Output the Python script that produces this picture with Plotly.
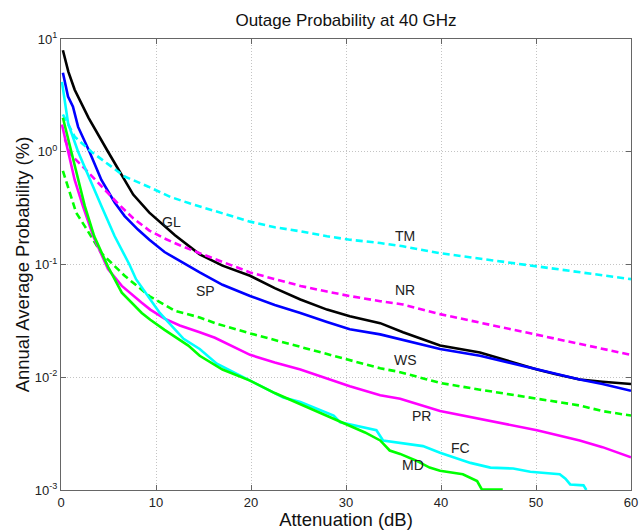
import math
import plotly.graph_objects as go

# ---- data (Attenuation dB, Annual average probability %) ----
gl_x = [0.2, 0.77, 1.44, 2.9, 4.95, 6.0, 7.6, 9.3, 10.5, 12, 14.6, 17, 19.9, 22.5, 25.2, 28, 30.4, 33.6, 36, 39.9, 44.1, 47, 50.1, 52, 54.6, 57, 60]
gl_y = [7.94, 5.13, 3.55, 2.0, 1.0, 0.71, 0.417, 0.288, 0.234, 0.182, 0.123, 0.0977, 0.0794, 0.0617, 0.049, 0.0398, 0.0347, 0.0302, 0.0251, 0.0191, 0.0166, 0.0141, 0.0117, 0.0107, 0.00955, 0.00912, 0.00871]

sp_x = [0.2, 0.74, 1.26, 1.8, 3.0, 4.25, 5.65, 6.7, 8.1, 9.3, 10.9, 12.5, 14.6, 17, 19.9, 22.5, 25.2, 28, 30.4, 33.6, 36, 39.9, 44.1, 47, 50.1, 54.6, 57, 60]
sp_y = [5.01, 3.09, 2.51, 1.66, 1.0, 0.562, 0.355, 0.269, 0.204, 0.166, 0.129, 0.107, 0.0851, 0.0661, 0.0525, 0.0437, 0.0372, 0.0309, 0.0266, 0.024, 0.0214, 0.0178, 0.0155, 0.0135, 0.0117, 0.00955, 0.00871, 0.00759]

tm_x = [0.2, 1.44, 3.2, 4.95, 6.7, 9.2, 11.5, 13.6, 16, 19.9, 22.5, 25.2, 28, 30.4, 33.6, 36, 39.9, 45, 50.1, 55, 60]
tm_y = [2.14, 1.36, 1.0, 0.776, 0.603, 0.49, 0.398, 0.347, 0.302, 0.24, 0.214, 0.197, 0.178, 0.166, 0.155, 0.145, 0.126, 0.11, 0.0966, 0.0851, 0.0741]

nr_x = [0.4, 1.1, 2.5, 4.2, 6.0, 7.6, 9.3, 10.9, 12.5, 14.6, 17, 19.9, 22.5, 25.2, 28, 30.4, 33.6, 36, 39.9, 45, 50.1, 55, 60]
nr_y = [1.29, 0.933, 0.708, 0.501, 0.347, 0.257, 0.2, 0.17, 0.148, 0.126, 0.105, 0.0851, 0.0741, 0.0646, 0.0575, 0.0525, 0.0473, 0.0442, 0.0363, 0.0295, 0.024, 0.0195, 0.0158]

ws_x = [0.2, 0.74, 1.6, 2.5, 4.25, 6.7, 9.3, 12, 14.6, 16.2, 19.9, 25.2, 30.4, 33.6, 35.5, 39.9, 44.1, 47, 50.1, 54.6, 57, 60]
ws_y = [0.676, 0.49, 0.288, 0.219, 0.126, 0.0794, 0.0525, 0.0389, 0.0339, 0.0302, 0.0245, 0.0186, 0.0141, 0.012, 0.0112, 0.00891, 0.00776, 0.00708, 0.00646, 0.00562, 0.00501, 0.00457]

pr_x = [0.1, 0.74, 1.44, 2.3, 3.4, 4.95, 6.4, 8.5, 9.4, 10.9, 12.5, 14.6, 16.2, 19.9, 22.5, 25.2, 28, 30.4, 33.6, 35.7, 39.9, 44.1, 47, 50.1, 54.6, 57, 60]
pr_y = [1.74, 1.0, 0.562, 0.331, 0.178, 0.0912, 0.0646, 0.0457, 0.0398, 0.0331, 0.0288, 0.0251, 0.0224, 0.0158, 0.0135, 0.0117, 0.00977, 0.00832, 0.00692, 0.00646, 0.00501, 0.00427, 0.0038, 0.00339, 0.00275, 0.0024, 0.00195]

fc_x = [0.1, 0.75, 1.8, 3.2, 4.25, 5.65, 7.2, 7.9, 10.4, 12.9, 14.6, 16.4, 19.9, 23.4, 25.2, 27.5, 28.7, 29.4, 31.1, 33.2, 33.9, 35.7, 38.1, 39.9, 43.1, 45.2, 47.6, 49.4, 52.5, 53.1, 53.6, 55.0, 55.3]
fc_y = [4.17, 1.78, 1.0, 0.525, 0.331, 0.178, 0.1, 0.0741, 0.0372, 0.0219, 0.0178, 0.0132, 0.00933, 0.00661, 0.00603, 0.00501, 0.00457, 0.00398, 0.00372, 0.00339, 0.00275, 0.00263, 0.00245, 0.00214, 0.00174, 0.00158, 0.00155, 0.00145, 0.00138, 0.00126, 0.00112, 0.0011, 0.001]

md_x = [0.2, 1.1, 1.8, 2.5, 3.5, 4.95, 6.4, 8.5, 9.4, 10.9, 13.4, 14.6, 17, 19.9, 22.5, 25.2, 27.5, 29.7, 32, 33.6, 34.6, 35.7, 37.4, 38.8, 39.9, 42.3, 43.8, 44.3, 46.5]
md_y = [2.0, 1.0, 0.562, 0.331, 0.178, 0.0955, 0.0562, 0.0372, 0.0324, 0.0263, 0.0191, 0.0155, 0.0117, 0.00933, 0.00724, 0.00575, 0.00479, 0.00398, 0.00324, 0.00275, 0.00224, 0.00209, 0.00182, 0.00158, 0.00148, 0.00138, 0.0012, 0.00101, 0.00101]

x_ticks = [0, 10, 20, 30, 40, 50, 60]
y_ticks = [0.001, 0.01, 0.1, 1, 10]
y_tick_text = ["10<sup>-3</sup>", "10<sup>-2</sup>", "10<sup>-1</sup>", "10<sup>0</sup>", "10<sup>1</sup>"]

labels = ["GL", "SP", "TM", "NR", "WS", "PR", "FC", "MD"]
label_x = [11.6, 15.2, 36.2, 36.2, 36.3, 37.9, 42.1, 37.0]
label_y = [0.24, 0.058, 0.178, 0.06, 0.0141, 0.0045, 0.00234, 0.00166]

series = [
    (gl_x, gl_y, "#000000", "solid"),
    (sp_x, sp_y, "#0000ff", "solid"),
    (tm_x, tm_y, "#00ffff", "dash"),
    (nr_x, nr_y, "#ff00ff", "dash"),
    (ws_x, ws_y, "#00ff00", "dash"),
    (pr_x, pr_y, "#ff00ff", "solid"),
    (fc_x, fc_y, "#00ffff", "solid"),
    (md_x, md_y, "#00ff00", "solid"),
]

fig = go.Figure()
for (xs, ys, col, dash), name in zip(series, labels):
    fig.add_trace(go.Scatter(x=xs, y=ys, mode="lines", name=name,
                             line=dict(color=col, width=2.6, dash=("7px,4px" if dash == "dash" else "solid"))))

for t, lx, ly in zip(labels, label_x, label_y):
    fig.add_annotation(x=lx, y=math.log10(ly), text=t, showarrow=False,
                       font=dict(family="Liberation Sans, Arial", size=14, color="#222222"))

fig.update_layout(
    width=640, height=530,
    margin=dict(l=61, r=9, t=39, b=40, autoexpand=False),
    paper_bgcolor="white", plot_bgcolor="white",
    showlegend=False,
    font=dict(family="Liberation Sans, Arial", size=12, color="#222222"),
    title=dict(text="Outage Probability at 40 GHz", x=346 / 640, xanchor="center", y=1 - 20 / 530, yanchor="middle",
               font=dict(size=17, color="#111111")),
)
fig.update_xaxes(range=[0, 60], tickvals=x_ticks, showgrid=True, gridcolor="#c4c4c4", griddash="1px,2px",
                 gridwidth=1, showline=True, linecolor="#666666", linewidth=1, mirror="ticks",
                 ticks="inside", ticklen=5, tickcolor="#666666", zeroline=False, automargin=False,
                 title=dict(text="Attenuation (dB)", font=dict(size=18.5, color="#111111"), standoff=4),
                 tickfont=dict(size=13))
fig.update_yaxes(type="log", range=[-3, 1], tickvals=y_ticks, ticktext=y_tick_text,
                 showgrid=True, gridcolor="#c4c4c4", griddash="1px,2px", gridwidth=1,
                 showline=True, linecolor="#666666", linewidth=1, mirror="ticks",
                 ticks="inside", ticklen=5, tickcolor="#666666", zeroline=False, automargin=False,
                 title=dict(text="Annual Average Probability (%)", font=dict(size=18.5, color="#111111"), standoff=0),
                 tickfont=dict(size=13))

fig.write_html("out.html")
